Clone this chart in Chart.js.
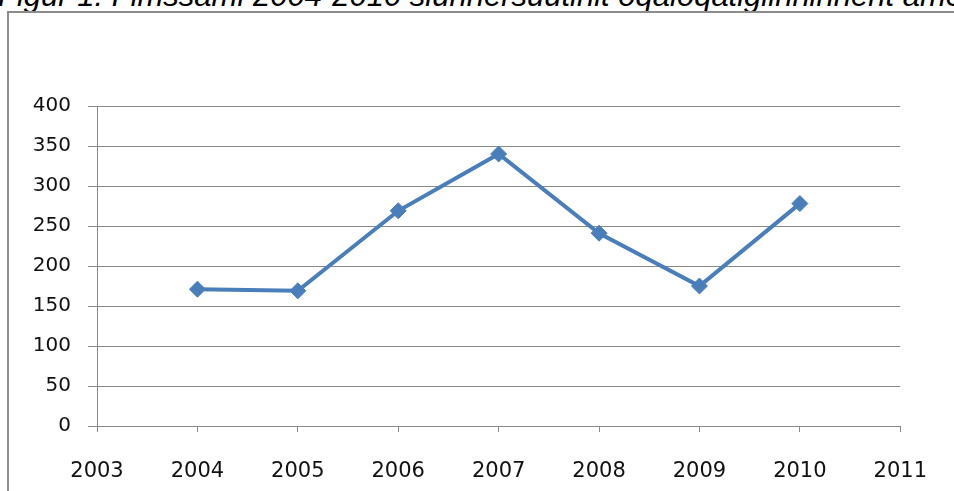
<!DOCTYPE html>
<html>
<head>
<meta charset="utf-8">
<script src="https://cdn.jsdelivr.net/npm/chart.js@4"></script>
<style>
  html, body { margin: 0; padding: 0; background: #fff; overflow: hidden; }
  #wrap { position: relative; width: 954px; height: 491px; overflow: hidden; }
  #title {
    position: absolute; left: -2px; top: -20px; white-space: nowrap;
    font: italic 31px "Liberation Sans", Arial, sans-serif; line-height: 31px; color: #000;
  }
  #frame {
    position: absolute; left: 7px; top: 11px; width: 980px; height: 520px;
    border: 2px solid #8c8c8c; box-sizing: border-box;
  }
  #chart { position: absolute; left: 0; top: 0; }
</style>
</head>
<body>
<div id="wrap">
  <div id="title">Figur 1: Fimssami 2004-2010 siunnersuutinit oqaloqatigiinninnerit amerlassusaat</div>
  <div id="frame"></div>
  <canvas id="chart" width="954" height="491"></canvas>
</div>
<script>
const years = [2004, 2005, 2006, 2007, 2008, 2009, 2010];
const counts = [171, 169, 269, 340, 241, 175, 278];
const xRange = [2003, 2011];
const yRange = [0, 400];
const yStep = 50;

const grey = "#898989";
const blue = "#4a7ebb";

new Chart(document.getElementById("chart"), {
  type: "line",
  data: {
    datasets: [{
      data: years.map((y, i) => ({ x: y, y: counts[i] })),
      borderColor: blue,
      borderWidth: 4,
      backgroundColor: blue,
      pointStyle: "rectRot",
      pointRadius: 8,
      pointBackgroundColor: blue,
      pointBorderColor: blue,
      pointBorderWidth: 1,
      tension: 0,
      fill: false
    }]
  },
  options: {
    responsive: false,
    animation: false,
    layout: { padding: { top: 106, right: 51, left: 0, bottom: 0 } },
    plugins: { legend: { display: false }, tooltip: { enabled: false } },
    scales: {
      x: {
        type: "linear",
        min: xRange[0],
        max: xRange[1],
        afterFit: s => { s.height = 65; },
        ticks: {
          stepSize: 1,
          callback: v => String(v),
          font: { family: "DejaVu Sans", size: 21 },
          color: "#111",
          padding: 27,
          maxRotation: 0
        },
        grid: { drawOnChartArea: false, drawTicks: true, tickLength: 6, color: grey },
        border: { display: true, color: grey }
      },
      y: {
        min: yRange[0],
        max: yRange[1],
        afterFit: s => { s.width = 97; },
        ticks: {
          stepSize: yStep,
          font: { family: "DejaVu Sans", size: 20 },
          color: "#111",
          padding: 17
        },
        grid: { color: grey, tickLength: 9 },
        border: { display: true, color: grey }
      }
    }
  }
});
</script>
</body>
</html>
